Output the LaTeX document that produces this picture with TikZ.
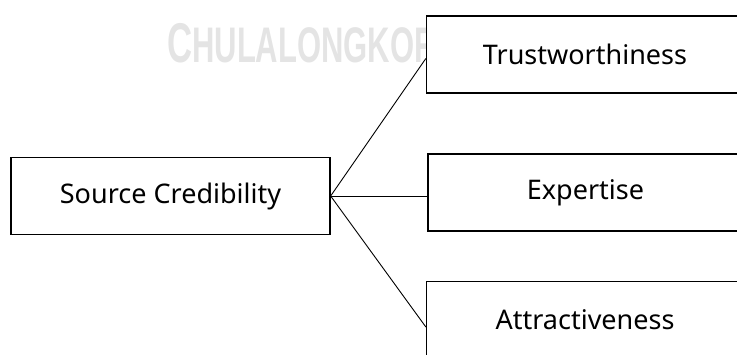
\documentclass[tikz,border=0pt]{standalone}
\usepackage{fontspec}
\setmainfont{Noto Sans}
\newfontfamily\markfont{Liberation Sans}
\definecolor{markgray}{RGB}{228,228,228}
\tikzset{
  conceptbox/.style={draw=black, line width=1.3pt, fill=white, inner sep=0pt,
    minimum height=77pt, font=\fontsize{27}{31}\selectfont},
  link/.style={draw=black, line width=0.9pt}
}
\begin{document}
\begin{tikzpicture}[x=1pt,y=1pt]
  \useasboundingbox (0,0) rectangle (737,354);
  \clip (0,0) rectangle (737,354);
  % faint institutional mark behind the top box
  \node[anchor=base west, inner sep=0pt, text=markgray] (mark) at (167,291)
    {\scalebox{0.62}[1]{\markfont\bfseries{\fontsize{56}{56}\selectfont C}{\fontsize{50}{50}\selectfont HULALONGKORN}}};
  % main concept
  \node[conceptbox, minimum width=319pt] (src) at (170.5,158) {Source Credibility};
  % dimensions
  \node[conceptbox, minimum width=317pt] (tr) at (585,299.5) {Trustworthiness};
  \node[conceptbox, minimum width=315pt] (ex) at (585.5,161.5) {Expertise};
  \node[conceptbox, minimum width=317pt] (at) at (585,34) {Attractiveness};
  % connectors
  \draw[link] (src.east) -- ([yshift=-4pt]tr.west);
  \draw[link] (src.east) -- (ex.west |- src.east);
  \draw[link] (src.east) -- ([yshift=-7pt]at.west);
\end{tikzpicture}
\end{document}
